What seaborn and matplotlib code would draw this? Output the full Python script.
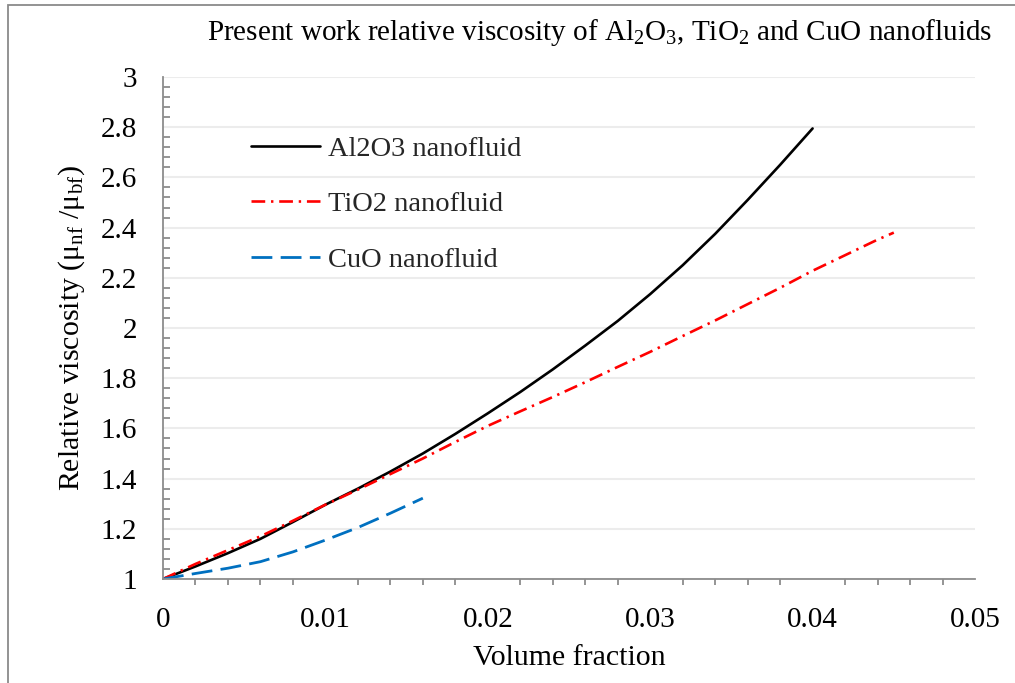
import numpy as np
import pandas as pd
import matplotlib
matplotlib.use("Agg")
import matplotlib.pyplot as plt
from matplotlib.patches import Rectangle
from matplotlib.ticker import MultipleLocator, FuncFormatter
import seaborn as sns

# ---- data ----
phi_al2o3 = [0.000, 0.002, 0.004, 0.006, 0.008, 0.010, 0.012, 0.014, 0.016, 0.018, 0.020,
             0.022, 0.024, 0.026, 0.028, 0.030, 0.032, 0.034, 0.036, 0.038, 0.040]
mu_al2o3 = [1.000, 1.050, 1.103, 1.160, 1.227, 1.296, 1.360, 1.428, 1.500, 1.578, 1.660,
            1.745, 1.835, 1.930, 2.028, 2.135, 2.250, 2.375, 2.510, 2.650, 2.795]

phi_tio2 = [0.000, 0.002, 0.004, 0.006, 0.008, 0.010, 0.012, 0.014, 0.016, 0.018, 0.020,
            0.022, 0.024, 0.026, 0.028, 0.030, 0.032, 0.034, 0.036, 0.038, 0.040,
            0.042, 0.044, 0.045]
mu_tio2 = [1.000, 1.060, 1.115, 1.170, 1.232, 1.296, 1.356, 1.418, 1.480, 1.546, 1.610,
           1.668, 1.725, 1.784, 1.845, 1.905, 1.968, 2.030, 2.095, 2.160, 2.228,
           2.290, 2.352, 2.380]

phi_cuo = [0.000, 0.002, 0.004, 0.006, 0.008, 0.010, 0.012, 0.014, 0.016]
mu_cuo = [1.000, 1.022, 1.043, 1.069, 1.108, 1.155, 1.205, 1.262, 1.322]

labels = ["Al2O3 nanofluid", "TiO2 nanofluid", "CuO nanofluid"]
x_ticks = [0, 0.01, 0.02, 0.03, 0.04, 0.05]
y_ticks = [1, 1.2, 1.4, 1.6, 1.8, 2, 2.2, 2.4, 2.6, 2.8, 3]

sns.set_theme(style="white")
plt.rcParams["font.family"] = ["Liberation Serif", "DejaVu Serif"]
plt.rcParams["mathtext.fontset"] = "custom"
plt.rcParams["mathtext.rm"] = "Liberation Serif"
plt.rcParams["mathtext.it"] = "Liberation Serif:italic"

fig = plt.figure(figsize=(10.15, 6.83), dpi=100)
ax = fig.add_axes([163 / 1015, 1 - 579 / 683, 812 / 1015, 502 / 683])

grey = "#8c8c8c"

sns.lineplot(x=phi_al2o3, y=mu_al2o3, ax=ax, color="black", lw=1.9,
             label=labels[0], sort=False, estimator=None)
sns.lineplot(x=phi_tio2, y=mu_tio2, ax=ax, color="#ff0000", lw=1.9,
             linestyle=(0, (5.2, 2.2, 0.9, 2.2)), label=labels[1], sort=False, estimator=None)
sns.lineplot(x=phi_cuo, y=mu_cuo, ax=ax, color="#0070c0", lw=2.0,
             linestyle=(0, (7.5, 3.0)), label=labels[2], sort=False, estimator=None)

ax.set_xlim(0, 0.05)
ax.set_ylim(1, 3)
ax.set_xticks(x_ticks)
ax.set_yticks(y_ticks)
ax.xaxis.set_minor_locator(MultipleLocator(0.002))
ax.yaxis.set_minor_locator(MultipleLocator(0.04))
fmt = FuncFormatter(lambda v, p: f"{v:g}")
ax.xaxis.set_major_formatter(fmt)
ax.yaxis.set_major_formatter(fmt)

ax.grid(axis="y", which="major", color="#ececec", lw=1.5)
ax.set_axisbelow(True)

for s in ["top", "right"]:
    ax.spines[s].set_visible(False)
for s in ["left", "bottom"]:
    ax.spines[s].set_color(grey)
    ax.spines[s].set_linewidth(1.3)

ax.tick_params(axis="x", which="major", direction="inout", length=10, width=1.3,
               color=grey, labelsize=21, pad=15, labelcolor="black")
ax.tick_params(axis="x", which="minor", direction="out", length=4.5, width=1.3,
               color=grey, bottom=True)
ax.tick_params(axis="y", which="major", direction="out", length=5.5, width=1.3,
               color=grey, labelsize=21, pad=13, labelcolor="black")
ax.tick_params(axis="y", which="minor", direction="in", length=5, width=1.3,
               color=grey, left=True)

ax.set_xlabel("Volume fraction", fontsize=21.5, color="black", labelpad=9)
ax.set_ylabel("Relative viscosity (μ$_{\\mathregular{nf}}$ /μ$_{\\mathregular{bf}}$)",
              fontsize=21.5, color="black", labelpad=10)

fig.text(600 / 1015, 1 - 33 / 683,
         "Present work relative viscosity of Al$_{\\mathregular{2}}$O$_{\\mathregular{3}}$, "
         "TiO$_{\\mathregular{2}}$ and CuO nanofluids",
         ha="center", va="center", fontsize=21, color="black")

leg = ax.legend(loc="upper left", bbox_to_anchor=(0.108, 0.882), frameon=False,
                fontsize=20.5, handlelength=2.45, handletextpad=0.25, labelspacing=1.03,
                borderpad=0, borderaxespad=0)

# figure frame (cropped on right and bottom)
frame = Rectangle((8 / 1015, -0.05), 1.2, 1 - 5 / 683 + 0.05, transform=fig.transFigure,
                  fill=False, edgecolor="#8a8a8a", lw=1.3, clip_on=False)
fig.patches.append(frame)

fig.savefig("out.png", dpi=100)
